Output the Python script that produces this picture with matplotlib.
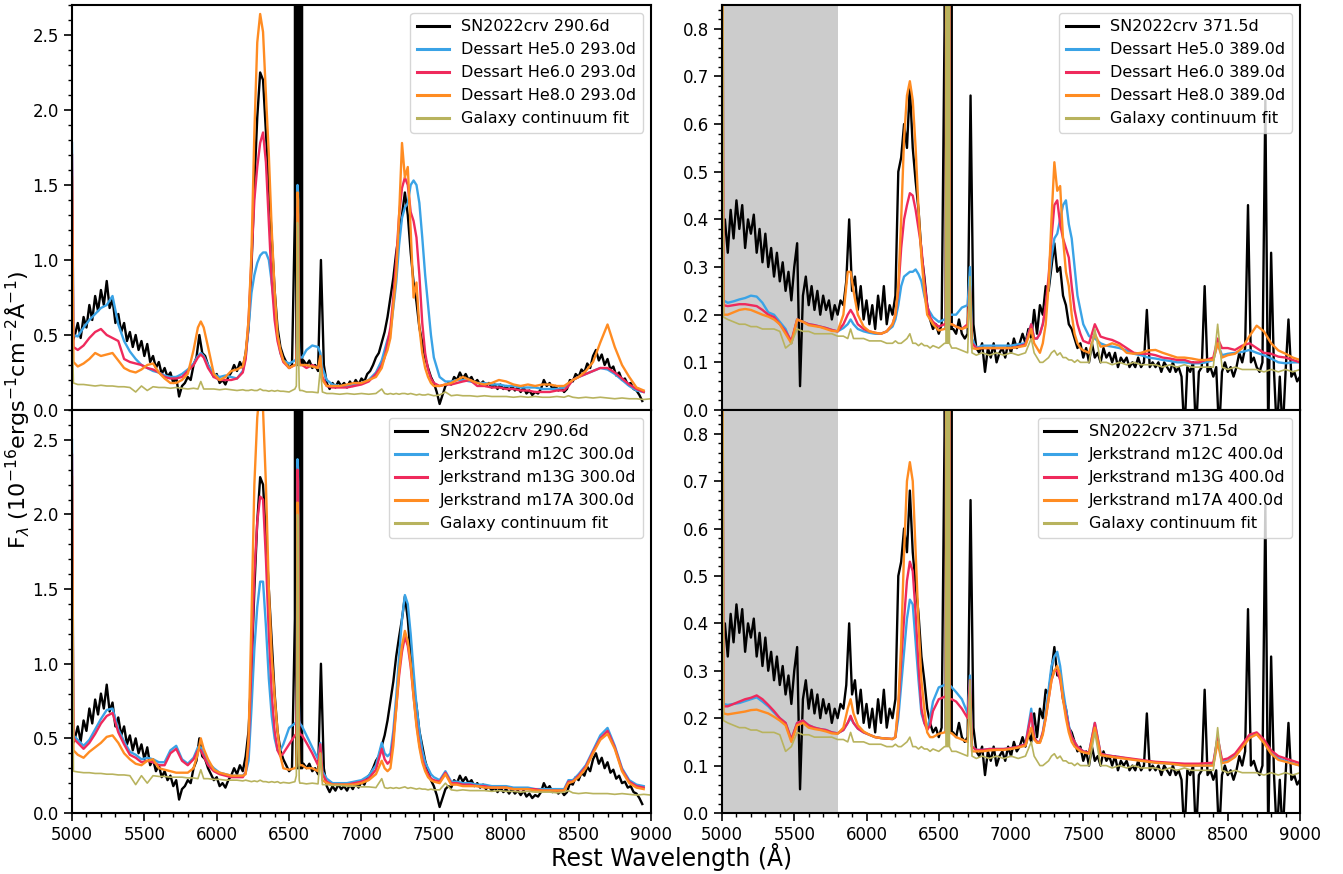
import numpy as np
import matplotlib.pyplot as plt
from matplotlib.ticker import MultipleLocator

nan = np.nan

# observed spectra: 20 A sampling, finer sampling across H-alpha
wl_halpha = [6546, 6550, 6554, 6558, 6562, 6566, 6570, 6574, 6578, 6582, 6586, 6590]
wl_obs_left = np.concatenate([np.arange(5000, 6541, 20), wl_halpha, np.arange(6600, 8941, 20)])
flux_290d = [
    0.45, 0.50, 0.58, 0.48, 0.62, 0.55, 0.70, 0.60, 0.76, 0.66,
    0.80, 0.70, 0.86, 0.68, 0.74, 0.58, 0.64, 0.52, 0.58, 0.46,
    0.52, 0.42, 0.50, 0.40, 0.46, 0.36, 0.44, 0.32, 0.36, 0.28,
    0.32, 0.24, 0.28, 0.22, 0.25, 0.18, 0.22, 0.09, 0.16, 0.18,
    0.22, 0.20, 0.30, 0.35, 0.50, 0.38, 0.36, 0.30, 0.26, 0.22,
    0.24, 0.18, 0.20, 0.17, 0.22, 0.25, 0.30, 0.26, 0.32, 0.28,
    0.38, 0.55, 0.95, 1.50, 1.95, 2.25, 2.20, 1.85, 1.50, 1.15,
    0.80, 0.55, 0.42, 0.36, 0.32, 0.28, 0.30, 1.30,
    30.0, 0.3, 30.0, 0.3, 30.0, 0.3, 30.0, 0.3, 30.0, 0.3, 30.0, 0.3,
    0.33, 0.30, 0.33, 0.28, 0.30, 0.26, 1.00, 0.30, 0.18, 0.14,
    0.18, 0.15, 0.19, 0.16, 0.18, 0.15, 0.19, 0.16, 0.20, 0.17,
    0.21, 0.19, 0.24, 0.26, 0.30, 0.35, 0.38, 0.45, 0.52, 0.62,
    0.75, 0.88, 1.05, 1.18, 1.30, 1.45, 1.30, 1.05, 0.85, 0.72,
    0.55, 0.45, 0.35, 0.28, 0.22, 0.18, 0.12, 0.04, 0.10, 0.16,
    0.18, 0.17, 0.22, 0.20, 0.25, 0.21, 0.24, 0.20, 0.22, 0.18,
    0.20, 0.17, 0.19, 0.16, 0.18, 0.15, 0.17, 0.14, 0.17, 0.14,
    0.16, 0.13, 0.16, 0.13, 0.15, 0.12, 0.15, 0.11, 0.13, 0.10,
    0.12, 0.11, 0.14, 0.20, 0.16, 0.18, 0.14, 0.16, 0.13, 0.15,
    0.12, 0.14, 0.20, 0.19, 0.24, 0.22, 0.27, 0.25, 0.31, 0.28,
    0.36, 0.40, 0.33, 0.37, 0.30, 0.34, 0.27, 0.29, 0.23, 0.25,
    0.20, 0.21, 0.17, 0.18, 0.14, 0.13, 0.10, 0.06,
]

wl_obs_right = np.concatenate([np.arange(5000, 6541, 20), wl_halpha, np.arange(6600, 9001, 20)])
flux_371d = [
    0.35, 0.40, 0.33, 0.42, 0.36, 0.44, 0.38, 0.43, 0.34, 0.40,
    0.37, 0.41, 0.33, 0.38, 0.31, 0.37, 0.30, 0.34, 0.28, 0.33,
    0.27, 0.31, 0.25, 0.29, 0.23, 0.30, 0.35, 0.05, 0.24, 0.28,
    0.22, 0.26, 0.21, 0.25, 0.20, 0.24, 0.21, 0.23, 0.19, 0.22,
    0.20, 0.23, 0.22, 0.27, 0.40, 0.25, 0.28, 0.21, 0.26, 0.19,
    0.23, 0.18, 0.22, 0.17, 0.24, 0.19, 0.26, 0.18, 0.22, 0.20,
    0.24, 0.50, 0.53, 0.60, 0.55, 0.68, 0.55, 0.48, 0.42, 0.33,
    0.28, 0.22, 0.19, 0.17, 0.18, 0.16, 0.18, 0.80,
    30.0, 0.17, 30.0, 0.17, 30.0, 0.17, 30.0, 0.17, 30.0, 0.17, 30.0, 0.17,
    0.17, 0.16, 0.19, 0.16, 0.15, 0.16, 0.66, 0.18, 0.13, 0.12,
    0.14, 0.08, 0.13, 0.11, 0.14, 0.10, 0.12, 0.13, 0.11, 0.14,
    0.12, 0.15, 0.13, 0.14, 0.16, 0.14, 0.17, 0.15, 0.21, 0.16,
    0.22, 0.20, 0.26, 0.25, 0.30, 0.35, 0.29, 0.30, 0.24, 0.22,
    0.18, 0.17, 0.15, 0.13, 0.14, 0.11, 0.13, 0.10, 0.14, 0.11,
    0.12, 0.10, 0.13, 0.11, 0.12, 0.10, 0.12, 0.09, 0.11, 0.10,
    0.11, 0.09, 0.10, 0.09, 0.11, 0.09, 0.10, 0.21, 0.09, 0.10,
    0.09, 0.10, 0.08, 0.10, 0.09, 0.08, 0.10, 0.08, 0.09, 0.07,
    -0.05, 0.09, 0.08, 0.10, -0.05, 0.08, 0.09, 0.26, 0.08, 0.09,
    0.07, 0.09, -0.05, 0.08, 0.10, 0.08, 0.09, 0.07, 0.09, 0.12,
    0.10, 0.13, 0.43, 0.10, 0.11, 0.09, 0.08, 0.10, 0.65, -0.05,
    0.33, 0.08, -0.05, 0.07, -0.05, 0.08, 0.19, 0.07, 0.08, 0.06,
    0.07,
]

# model / galaxy wavelength grid
wl_mod = [
    5000, 5010, 5040, 5080, 5120, 5160, 5200, 5240, 5280, 5320,
    5360, 5400, 5440, 5480, 5520, 5560, 5600, 5640, 5680, 5720,
    5760, 5800, 5840, 5870, 5890, 5910, 5940, 5980, 6020, 6060,
    6100, 6140, 6180, 6200, 6220, 6240, 6260, 6280, 6300, 6320,
    6340, 6360, 6380, 6400, 6420, 6440, 6460, 6500, 6540,
    6550, 6554, 6558, 6562, 6566, 6570, 6574,
    6590, 6620, 6660, 6700, 6716, 6730, 6760, 6800,
    6850, 6900, 6950, 7000, 7050, 7100, 7140, 7160, 7180, 7200,
    7220, 7240, 7260, 7280, 7300, 7320, 7340, 7360, 7380, 7400,
    7420, 7440, 7460, 7480, 7500, 7540, 7580, 7620, 7660, 7700,
    7750, 7800, 7850, 7900, 7950, 8000, 8050, 8100, 8150, 8200,
    8250, 8300, 8350, 8400, 8430, 8460, 8500, 8550, 8600, 8650,
    8700, 8750, 8800, 8850, 8900, 8950, 9000,
]

# Dessart models, 293.0d
dessart_he5_293 = [
    1.78, 0.50, 0.49, 0.55, 0.60, 0.64, 0.68, 0.70, 0.76, 0.57,
    0.46, 0.39, 0.34, 0.30, 0.28, 0.26, 0.25, 0.23, 0.22, 0.22,
    0.24, 0.27, 0.31, 0.36, 0.38, 0.36, 0.30, 0.24, 0.22, 0.23,
    0.22, 0.21, 0.26, 0.35, 0.55, 0.78, 0.90, 0.98, 1.03, 1.05,
    1.05, 1.00, 0.85, 0.68, 0.50, 0.38, 0.33, 0.31, 0.33,
    0.34, 0.50, 1.50, 1.45, 0.50, 0.38, 0.35,
    0.35, 0.40, 0.43, 0.42, 0.38, 0.28, 0.20, 0.17,
    0.16, 0.16, 0.17, 0.18, 0.20, 0.25, 0.33, 0.40, 0.47, 0.52,
    0.68, 0.85, 1.10, 1.28, 1.35, 1.38, 1.50, 1.53, 1.50, 1.38,
    1.15, 0.90, 0.70, 0.50, 0.35, 0.22, 0.19, 0.19, 0.20, 0.20,
    0.19, 0.18, 0.18, 0.17, 0.17, 0.16, 0.16, 0.15, 0.15, 0.15,
    0.14, 0.14, 0.14, 0.15, 0.17, 0.20, 0.22, 0.24, 0.26, 0.28,
    0.27, 0.24, 0.20, 0.16, 0.13, 0.12, nan,
]
dessart_he6_293 = [
    1.70, 0.42, 0.40, 0.43, 0.48, 0.52, 0.54, 0.50, 0.48, 0.46,
    0.34, 0.32, 0.31, 0.30, 0.28, 0.27, 0.25, 0.22, 0.21, 0.21,
    0.22, 0.26, 0.30, 0.35, 0.37, 0.35, 0.28, 0.22, 0.20, 0.20,
    0.20, 0.21, 0.25, 0.34, 0.60, 1.00, 1.40, 1.62, 1.78, 1.85,
    1.65, 1.25, 0.85, 0.60, 0.46, 0.38, 0.32, 0.28, 0.30,
    0.30, 0.45, 1.35, 1.30, 0.45, 0.32, 0.30,
    0.30, 0.28, 0.30, 0.28, 0.32, 0.22, 0.16, 0.15,
    0.15, 0.15, 0.16, 0.17, 0.19, 0.24, 0.30, 0.35, 0.45, 0.55,
    0.75, 1.00, 1.30, 1.48, 1.55, 1.50, 1.32, 1.26, 1.15, 0.90,
    0.58, 0.38, 0.27, 0.21, 0.18, 0.16, 0.17, 0.17, 0.18, 0.19,
    0.20, 0.16, 0.16, 0.15, 0.15, 0.14, 0.14, 0.13, 0.13, 0.12,
    0.12, 0.12, 0.13, 0.13, 0.16, 0.20, 0.22, 0.24, 0.26, 0.28,
    0.28, 0.25, 0.21, 0.17, 0.14, 0.12, nan,
]
dessart_he8_293 = [
    1.55, 0.32, 0.29, 0.31, 0.34, 0.38, 0.36, 0.37, 0.38, 0.33,
    0.28, 0.26, 0.25, 0.27, 0.30, 0.31, 0.25, 0.21, 0.18, 0.18,
    0.20, 0.24, 0.40, 0.55, 0.59, 0.55, 0.42, 0.24, 0.20, 0.22,
    0.26, 0.27, 0.29, 0.38, 0.60, 1.05, 1.85, 2.45, 2.64, 2.52,
    2.10, 1.70, 1.20, 0.80, 0.50, 0.40, 0.33, 0.28, 0.30,
    0.30, 0.45, 1.45, 1.40, 0.45, 0.32, 0.30,
    0.30, 0.30, 0.29, 0.28, 0.36, 0.20, 0.16, 0.16,
    0.16, 0.17, 0.18, 0.18, 0.20, 0.22, 0.28, 0.35, 0.40, 0.48,
    0.70, 0.90, 1.30, 1.78, 1.55, 1.62, 1.20, 0.75, 0.85, 0.55,
    0.38, 0.28, 0.22, 0.18, 0.16, 0.16, 0.17, 0.18, 0.20, 0.22,
    0.20, 0.18, 0.17, 0.18, 0.20, 0.19, 0.17, 0.16, 0.17, 0.16,
    0.17, 0.17, 0.16, 0.16, 0.18, 0.20, 0.22, 0.26, 0.32, 0.45,
    0.57, 0.42, 0.30, 0.22, 0.15, 0.13, nan,
]

# Jerkstrand models, 300.0d
jerk_m12c_300 = [
    2.50, 0.52, 0.49, 0.45, 0.49, 0.56, 0.63, 0.69, 0.70, 0.56,
    0.48, 0.41, 0.39, 0.36, 0.37, 0.36, 0.34, 0.34, 0.42, 0.45,
    0.36, 0.33, 0.37, 0.44, 0.44, 0.40, 0.34, 0.30, 0.27, 0.26,
    0.25, 0.25, 0.25, 0.27, 0.35, 0.70, 1.10, 1.38, 1.55, 1.55,
    1.25, 0.90, 0.65, 0.50, 0.42, 0.42, 0.46, 0.57, 0.60,
    0.61, 0.90, 2.37, 2.30, 0.80, 0.62, 0.60,
    0.58, 0.52, 0.44, 0.36, 0.47, 0.28, 0.23, 0.20,
    0.20, 0.20, 0.21, 0.22, 0.25, 0.32, 0.47, 0.40, 0.38, 0.40,
    0.55, 0.78, 1.05, 1.30, 1.46, 1.40, 1.20, 0.95, 0.72, 0.55,
    0.42, 0.34, 0.30, 0.26, 0.24, 0.22, 0.28, 0.21, 0.21, 0.20,
    0.20, 0.19, 0.19, 0.18, 0.18, 0.18, 0.17, 0.17, 0.17, 0.16,
    0.16, 0.16, 0.16, 0.16, 0.22, 0.22, 0.26, 0.32, 0.42, 0.52,
    0.57, 0.45, 0.30, 0.22, 0.19, 0.18, nan,
]
jerk_m13g_300 = [
    2.40, 0.50, 0.47, 0.43, 0.47, 0.53, 0.60, 0.65, 0.67, 0.54,
    0.46, 0.39, 0.37, 0.34, 0.35, 0.34, 0.32, 0.32, 0.40, 0.43,
    0.35, 0.32, 0.36, 0.42, 0.42, 0.38, 0.32, 0.28, 0.26, 0.25,
    0.24, 0.24, 0.24, 0.27, 0.45, 1.00, 1.60, 1.95, 2.12, 2.10,
    1.70, 1.20, 0.80, 0.55, 0.42, 0.38, 0.40, 0.46, 0.52,
    0.53, 0.85, 2.30, 2.22, 0.75, 0.55, 0.53,
    0.52, 0.47, 0.40, 0.32, 0.46, 0.26, 0.21, 0.19,
    0.19, 0.19, 0.20, 0.21, 0.23, 0.29, 0.43, 0.36, 0.33, 0.35,
    0.50, 0.70, 0.92, 1.08, 1.18, 1.12, 0.98, 0.78, 0.60, 0.46,
    0.36, 0.30, 0.26, 0.23, 0.22, 0.21, 0.27, 0.20, 0.20, 0.19,
    0.19, 0.18, 0.18, 0.17, 0.17, 0.17, 0.16, 0.16, 0.16, 0.16,
    0.15, 0.15, 0.15, 0.15, 0.21, 0.21, 0.25, 0.31, 0.41, 0.50,
    0.55, 0.44, 0.29, 0.21, 0.18, 0.17, nan,
]
jerk_m17a_300 = [
    2.25, 0.42, 0.39, 0.37, 0.41, 0.44, 0.47, 0.51, 0.52, 0.47,
    0.40, 0.36, 0.33, 0.32, 0.35, 0.36, 0.30, 0.29, 0.28, 0.27,
    0.27, 0.27, 0.30, 0.40, 0.50, 0.43, 0.36, 0.29, 0.27, 0.26,
    0.25, 0.25, 0.25, 0.26, 0.50, 1.30, 2.20, 2.65, 2.85, 2.70,
    2.20, 1.50, 1.05, 0.78, 0.55, 0.38, 0.30, 0.29, 0.30,
    0.31, 0.60, 2.08, 2.00, 0.55, 0.34, 0.32,
    0.32, 0.30, 0.30, 0.28, 0.40, 0.22, 0.20, 0.19,
    0.19, 0.19, 0.19, 0.20, 0.22, 0.26, 0.35, 0.30, 0.28, 0.30,
    0.45, 0.70, 0.95, 1.12, 1.22, 1.15, 1.00, 0.78, 0.58, 0.44,
    0.34, 0.28, 0.24, 0.22, 0.21, 0.20, 0.26, 0.19, 0.19, 0.18,
    0.18, 0.18, 0.17, 0.17, 0.17, 0.17, 0.16, 0.16, 0.16, 0.15,
    0.15, 0.15, 0.15, 0.15, 0.20, 0.21, 0.24, 0.30, 0.40, 0.49,
    0.53, 0.43, 0.28, 0.20, 0.17, 0.16, nan,
]

# Dessart models, 389.0d
dessart_he5_389 = [
    1.50, 0.23, 0.225, 0.228, 0.232, 0.235, 0.24, 0.238, 0.225, 0.205,
    0.20, 0.185, 0.17, 0.14, 0.19, 0.185, 0.18, 0.178, 0.175, 0.172,
    0.168, 0.165, 0.172, 0.18, 0.19, 0.18, 0.17, 0.165, 0.162, 0.16,
    0.16, 0.165, 0.175, 0.19, 0.22, 0.26, 0.28, 0.285, 0.29, 0.29,
    0.295, 0.285, 0.27, 0.24, 0.215, 0.205, 0.195, 0.185, 0.19,
    0.19, 3.0, 0.19, 3.0, 0.20, 3.0, 0.20,
    0.20, 0.20, 0.215, 0.22, 0.30, 0.15, 0.13, 0.135,
    0.135, 0.135, 0.135, 0.135, 0.138, 0.14, 0.18, 0.15, 0.15, 0.16,
    0.18, 0.21, 0.26, 0.32, 0.36, 0.37, 0.40, 0.43, 0.44, 0.39,
    0.36, 0.30, 0.24, 0.21, 0.18, 0.155, 0.15, 0.14, 0.135, 0.133,
    0.13, 0.125, 0.118, 0.115, 0.11, 0.108, 0.105, 0.103, 0.10, 0.10,
    0.098, 0.098, 0.10, 0.105, 0.14, 0.115, 0.118, 0.12, 0.122, 0.126,
    0.12, 0.115, 0.108, 0.10, 0.098, 0.10, 0.10,
]
dessart_he6_389 = [
    1.50, 0.22, 0.218, 0.22, 0.222, 0.222, 0.22, 0.218, 0.21, 0.20,
    0.195, 0.18, 0.165, 0.145, 0.19, 0.185, 0.18, 0.178, 0.175, 0.172,
    0.168, 0.165, 0.18, 0.20, 0.21, 0.20, 0.18, 0.17, 0.165, 0.162,
    0.16, 0.165, 0.18, 0.20, 0.25, 0.34, 0.40, 0.43, 0.455, 0.45,
    0.42, 0.38, 0.34, 0.27, 0.22, 0.195, 0.185, 0.175, 0.18,
    0.18, 3.0, 0.18, 3.0, 0.18, 3.0, 0.18,
    0.18, 0.175, 0.17, 0.18, 0.26, 0.14, 0.13, 0.13,
    0.13, 0.13, 0.13, 0.13, 0.133, 0.138, 0.18, 0.15, 0.15, 0.16,
    0.18, 0.22, 0.28, 0.36, 0.43, 0.44, 0.39, 0.36, 0.34, 0.32,
    0.26, 0.21, 0.18, 0.16, 0.145, 0.14, 0.18, 0.154, 0.15, 0.147,
    0.14, 0.13, 0.12, 0.118, 0.118, 0.115, 0.11, 0.108, 0.105, 0.105,
    0.10, 0.10, 0.105, 0.11, 0.15, 0.13, 0.13, 0.126, 0.135, 0.14,
    0.13, 0.12, 0.118, 0.112, 0.11, 0.105, 0.10,
]
dessart_he8_389 = [
    1.50, 0.20, 0.20, 0.205, 0.21, 0.212, 0.21, 0.205, 0.20, 0.196,
    0.19, 0.18, 0.16, 0.14, 0.19, 0.185, 0.178, 0.176, 0.174, 0.17,
    0.166, 0.165, 0.20, 0.29, 0.29, 0.25, 0.20, 0.175, 0.165, 0.162,
    0.16, 0.165, 0.18, 0.20, 0.26, 0.40, 0.57, 0.66, 0.69, 0.65,
    0.55, 0.42, 0.32, 0.25, 0.20, 0.19, 0.18, 0.167, 0.17,
    0.17, 3.0, 0.17, 3.0, 0.18, 3.0, 0.18,
    0.18, 0.175, 0.17, 0.175, 0.25, 0.13, 0.128, 0.13,
    0.13, 0.13, 0.13, 0.13, 0.132, 0.135, 0.17, 0.14, 0.13, 0.12,
    0.14, 0.18, 0.26, 0.40, 0.52, 0.46, 0.47, 0.36, 0.29, 0.26,
    0.20, 0.16, 0.14, 0.13, 0.125, 0.12, 0.16, 0.133, 0.135, 0.14,
    0.135, 0.12, 0.118, 0.12, 0.125, 0.126, 0.12, 0.115, 0.11, 0.11,
    0.108, 0.105, 0.105, 0.105, 0.14, 0.11, 0.115, 0.118, 0.13, 0.155,
    0.177, 0.165, 0.14, 0.125, 0.118, 0.11, 0.105,
]

# Jerkstrand models, 400.0d
jerk_m12c_400 = [
    1.50, 0.23, 0.228, 0.23, 0.232, 0.236, 0.24, 0.244, 0.235, 0.225,
    0.212, 0.20, 0.19, 0.155, 0.19, 0.195, 0.185, 0.18, 0.177, 0.175,
    0.17, 0.168, 0.175, 0.19, 0.20, 0.19, 0.178, 0.17, 0.165, 0.16,
    0.158, 0.157, 0.156, 0.16, 0.20, 0.27, 0.34, 0.41, 0.45, 0.44,
    0.36, 0.28, 0.21, 0.19, 0.18, 0.20, 0.235, 0.265, 0.27,
    0.27, 3.0, 0.27, 3.0, 0.27, 3.0, 0.27,
    0.265, 0.255, 0.24, 0.21, 0.29, 0.14, 0.133, 0.133,
    0.135, 0.135, 0.135, 0.137, 0.14, 0.145, 0.22, 0.16, 0.15, 0.15,
    0.17, 0.21, 0.26, 0.31, 0.33, 0.34, 0.31, 0.26, 0.22, 0.185,
    0.16, 0.15, 0.14, 0.135, 0.13, 0.127, 0.19, 0.125, 0.122, 0.12,
    0.118, 0.115, 0.113, 0.11, 0.108, 0.106, 0.105, 0.104, 0.102, 0.10,
    0.10, 0.10, 0.10, 0.102, 0.16, 0.108, 0.11, 0.12, 0.14, 0.162,
    0.168, 0.15, 0.128, 0.115, 0.11, 0.105, 0.10,
]
jerk_m13g_400 = [
    1.50, 0.225, 0.225, 0.23, 0.235, 0.24, 0.243, 0.248, 0.24, 0.228,
    0.215, 0.20, 0.19, 0.155, 0.19, 0.195, 0.185, 0.18, 0.177, 0.175,
    0.17, 0.168, 0.175, 0.19, 0.205, 0.19, 0.178, 0.17, 0.165, 0.16,
    0.158, 0.157, 0.156, 0.16, 0.22, 0.32, 0.41, 0.49, 0.53, 0.51,
    0.42, 0.31, 0.22, 0.19, 0.175, 0.185, 0.215, 0.24, 0.245,
    0.245, 3.0, 0.245, 3.0, 0.245, 3.0, 0.24,
    0.24, 0.235, 0.22, 0.20, 0.28, 0.14, 0.133, 0.133,
    0.135, 0.135, 0.135, 0.137, 0.14, 0.145, 0.21, 0.16, 0.15, 0.15,
    0.17, 0.20, 0.24, 0.28, 0.30, 0.30, 0.28, 0.24, 0.21, 0.18,
    0.16, 0.15, 0.14, 0.135, 0.13, 0.127, 0.19, 0.125, 0.122, 0.12,
    0.118, 0.116, 0.114, 0.112, 0.11, 0.108, 0.107, 0.106, 0.105, 0.104,
    0.104, 0.104, 0.105, 0.106, 0.16, 0.112, 0.115, 0.125, 0.145, 0.165,
    0.17, 0.155, 0.132, 0.12, 0.115, 0.11, 0.105,
]
jerk_m17a_400 = [
    1.50, 0.21, 0.208, 0.21, 0.212, 0.214, 0.217, 0.218, 0.214, 0.21,
    0.203, 0.195, 0.185, 0.15, 0.185, 0.19, 0.18, 0.177, 0.175, 0.172,
    0.168, 0.167, 0.18, 0.22, 0.24, 0.21, 0.185, 0.172, 0.165, 0.16,
    0.158, 0.157, 0.156, 0.16, 0.23, 0.36, 0.55, 0.70, 0.74, 0.70,
    0.55, 0.40, 0.28, 0.22, 0.17, 0.16, 0.16, 0.167, 0.17,
    0.17, 3.0, 0.17, 3.0, 0.17, 3.0, 0.17,
    0.168, 0.16, 0.155, 0.15, 0.25, 0.13, 0.13, 0.13,
    0.132, 0.133, 0.133, 0.135, 0.138, 0.142, 0.18, 0.155, 0.148, 0.148,
    0.165, 0.20, 0.24, 0.28, 0.30, 0.31, 0.29, 0.24, 0.20, 0.17,
    0.15, 0.14, 0.135, 0.13, 0.128, 0.125, 0.18, 0.122, 0.12, 0.118,
    0.116, 0.114, 0.112, 0.11, 0.108, 0.106, 0.105, 0.104, 0.102, 0.10,
    0.10, 0.10, 0.10, 0.10, 0.15, 0.105, 0.108, 0.118, 0.138, 0.158,
    0.166, 0.148, 0.125, 0.112, 0.108, 0.104, 0.10,
]

# galaxy continuum fits
galaxy_dessart_290 = [
    0.60, 0.18, 0.17, 0.17, 0.165, 0.16, 0.165, 0.16, 0.16, 0.155,
    0.155, 0.15, 0.12, 0.16, 0.13, 0.155, 0.15, 0.15, 0.145, 0.15,
    0.145, 0.14, 0.145, 0.14, 0.19, 0.14, 0.14, 0.14, 0.135, 0.14,
    0.135, 0.13, 0.135, 0.13, 0.13, 0.135, 0.13, 0.13, 0.14, 0.13,
    0.13, 0.125, 0.13, 0.125, 0.13, 0.125, 0.125, 0.12, 0.14,
    0.16, 0.40, 1.25, 1.20, 0.35, 0.15, 0.13,
    0.13, 0.12, 0.12, 0.115, 0.28, 0.12, 0.11, 0.11,
    0.105, 0.11, 0.105, 0.11, 0.105, 0.11, 0.14, 0.11, 0.105, 0.11,
    0.105, 0.11, 0.105, 0.11, 0.11, 0.105, 0.11, 0.105, 0.10, 0.105,
    0.10, 0.10, 0.105, 0.10, 0.095, 0.10, 0.12, 0.095, 0.10, 0.095,
    0.095, 0.09, 0.095, 0.09, 0.09, 0.09, 0.085, 0.09, 0.085, 0.09,
    0.085, 0.085, 0.09, 0.085, 0.095, 0.085, 0.08, 0.085, 0.08, 0.085,
    0.08, 0.075, 0.08, 0.075, 0.075, 0.07, 0.075,
]
galaxy_jerk_290 = [
    2.00, 0.28, 0.275, 0.27, 0.27, 0.265, 0.265, 0.26, 0.26, 0.255,
    0.255, 0.25, 0.19, 0.25, 0.20, 0.25, 0.245, 0.245, 0.24, 0.24,
    0.24, 0.235, 0.235, 0.23, 0.29, 0.23, 0.23, 0.225, 0.225, 0.22,
    0.22, 0.22, 0.215, 0.22, 0.215, 0.21, 0.215, 0.21, 0.22, 0.21,
    0.21, 0.205, 0.21, 0.205, 0.21, 0.20, 0.205, 0.20, 0.21,
    0.25, 0.60, 2.00, 1.95, 0.50, 0.22, 0.20,
    0.20, 0.195, 0.20, 0.195, 0.40, 0.19, 0.19, 0.185,
    0.185, 0.18, 0.18, 0.175, 0.175, 0.17, 0.23, 0.17, 0.165, 0.17,
    0.165, 0.17, 0.165, 0.17, 0.175, 0.165, 0.17, 0.165, 0.16, 0.165,
    0.16, 0.16, 0.155, 0.16, 0.155, 0.155, 0.20, 0.155, 0.15, 0.155,
    0.15, 0.15, 0.15, 0.145, 0.15, 0.145, 0.145, 0.14, 0.145, 0.14,
    0.14, 0.14, 0.135, 0.14, 0.15, 0.135, 0.13, 0.135, 0.13, 0.13,
    0.13, 0.125, 0.13, 0.125, 0.12, 0.125, 0.12,
]
galaxy_371 = [
    1.50, 0.195, 0.19, 0.185, 0.18, 0.18, 0.175, 0.175, 0.17, 0.17,
    0.17, 0.165, 0.13, 0.14, 0.17, 0.165, 0.165, 0.16, 0.16, 0.16,
    0.16, 0.155, 0.155, 0.15, 0.17, 0.15, 0.15, 0.15, 0.145, 0.145,
    0.145, 0.14, 0.14, 0.145, 0.14, 0.14, 0.145, 0.15, 0.16, 0.14,
    0.14, 0.135, 0.14, 0.135, 0.135, 0.13, 0.135, 0.13, 0.14,
    0.14, 3.0, 0.14, 3.0, 0.14, 3.0, 0.14,
    0.13, 0.13, 0.125, 0.12, 0.28, 0.12, 0.115, 0.12,
    0.115, 0.12, 0.115, 0.12, 0.115, 0.12, 0.15, 0.12, 0.11, 0.10,
    0.10, 0.105, 0.11, 0.12, 0.125, 0.115, 0.12, 0.11, 0.11, 0.105,
    0.105, 0.10, 0.105, 0.10, 0.10, 0.10, 0.17, 0.10, 0.10, 0.095,
    0.10, 0.095, 0.10, 0.095, 0.095, 0.095, 0.09, 0.095, 0.09, 0.095,
    0.09, 0.09, 0.09, 0.09, 0.18, 0.09, 0.085, 0.09, 0.085, 0.085,
    0.085, 0.08, 0.085, 0.08, 0.085, 0.08, 0.085,
]

labels_tl = ['SN2022crv 290.6d', 'Dessart He5.0 293.0d', 'Dessart He6.0 293.0d',
             'Dessart He8.0 293.0d', 'Galaxy continuum fit']
labels_bl = ['SN2022crv 290.6d', 'Jerkstrand m12C 300.0d', 'Jerkstrand m13G 300.0d',
             'Jerkstrand m17A 300.0d', 'Galaxy continuum fit']
labels_tr = ['SN2022crv 371.5d', 'Dessart He5.0 389.0d', 'Dessart He6.0 389.0d',
             'Dessart He8.0 389.0d', 'Galaxy continuum fit']
labels_br = ['SN2022crv 371.5d', 'Jerkstrand m12C 400.0d', 'Jerkstrand m13G 400.0d',
             'Jerkstrand m17A 400.0d', 'Galaxy continuum fit']

colors = ['black', '#3AA3E6', '#EF2A5C', '#FF8C22', '#B8B35E']

fig = plt.figure(figsize=(13.43, 8.74), dpi=100)
ax_tl = fig.add_axes([0.0536, 0.5309, 0.4311, 0.4634])
ax_bl = fig.add_axes([0.0536, 0.0698, 0.4311, 0.4611])
ax_tr = fig.add_axes([0.5376, 0.5309, 0.4304, 0.4634])
ax_br = fig.add_axes([0.5376, 0.0698, 0.4304, 0.4611])

panels = [
    (ax_tl, wl_obs_left, flux_290d, [dessart_he5_293, dessart_he6_293, dessart_he8_293],
     galaxy_dessart_290, labels_tl, 2.7, True),
    (ax_bl, wl_obs_left, flux_290d, [jerk_m12c_300, jerk_m13g_300, jerk_m17a_300],
     galaxy_jerk_290, labels_bl, 2.7, False),
    (ax_tr, wl_obs_right, flux_371d, [dessart_he5_389, dessart_he6_389, dessart_he8_389],
     galaxy_371, labels_tr, 0.85, True),
    (ax_br, wl_obs_right, flux_371d, [jerk_m12c_400, jerk_m13g_400, jerk_m17a_400],
     galaxy_371, labels_br, 0.85, False),
]

for ax, wl, obs, models, gal, labels, ymax, top in panels:
    right = ymax < 1
    if right:
        ax.axvspan(5000, 5800, color='#cccccc', zorder=0, lw=0)
    ax.plot(wl, obs, color=colors[0], lw=1.7, label=labels[0])
    for m, c, lab in zip(models, colors[1:4], labels[1:4]):
        ax.plot(wl_mod, m, color=c, lw=1.7, label=lab)
    ax.plot(wl_mod, gal, color=colors[4], lw=1.2, label=labels[4])

    ax.set_xlim(5000, 9000)
    ax.set_ylim(0, ymax)
    ax.xaxis.set_major_locator(MultipleLocator(500))
    ax.xaxis.set_minor_locator(MultipleLocator(100))
    if right:
        ax.yaxis.set_major_locator(MultipleLocator(0.1))
        ax.yaxis.set_minor_locator(MultipleLocator(0.02))
    else:
        ax.yaxis.set_major_locator(MultipleLocator(0.5))
        ax.yaxis.set_minor_locator(MultipleLocator(0.1))
    ax.tick_params(which='major', direction='out', length=6, width=1.2, labelsize=12)
    ax.tick_params(which='minor', direction='out', length=3, width=1.0)
    if top:
        ax.tick_params(axis='x', which='both', bottom=False, labelbottom=False)
    for s in ax.spines.values():
        s.set_linewidth(1.5)
    leg = ax.legend(loc='upper right', fontsize=11.5, labelspacing=0.5)
    for line in leg.get_lines():
        line.set_linewidth(2.2)

fig.text(0.5, 0.02, 'Rest Wavelength (Å)', ha='center', va='center', fontsize=17)
fig.text(0.013, 0.531, r'F$_\lambda$ (10$^{-16}$ergs$^{-1}$cm$^{-2}$Å$^{-1}$)',
         ha='center', va='center', rotation=90, fontsize=16)

fig.savefig('out.png', dpi=100)
